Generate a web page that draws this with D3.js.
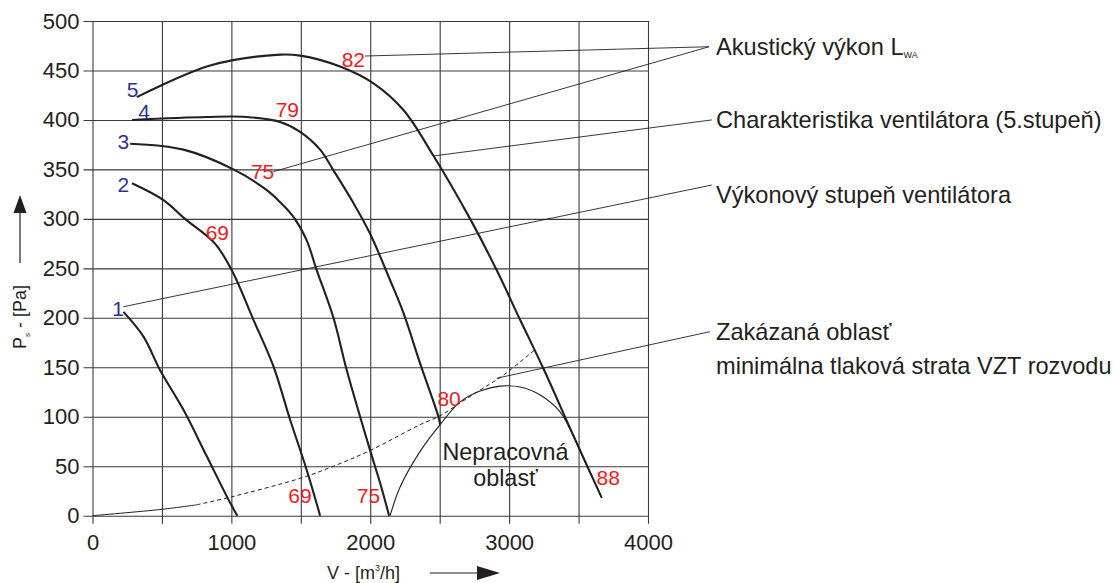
<!DOCTYPE html>
<html>
<head>
<meta charset="utf-8">
<script src="https://cdn.jsdelivr.net/npm/d3@7"></script>
<style>
  body { margin: 0; background: #fff; }
  svg { font-family: "Liberation Sans", Arial, Helvetica, sans-serif; }
</style>
</head>
<body>
<script>
// fan curves, one per speed step [V m3/h, Ps Pa]
const step1 = [[223,206],[367,181],[487,147],[655,107],[823,60],[991,13],[1043,0]];
const step2 = [[284,336],[511,319],[666,300],[882,275],[1003,248],[1159,198],[1303,151],[1423,97],[1543,46],[1639,0]];
const step3 = [[271,376],[655,370],[1015,350],[1255,329],[1350,317],[1447,302],[1540,279],[1615,248],[1735,200],[1831,147],[1999,66],[2071,33],[2136,0]];
const step4 = [[284,400],[823,403],[1111,403],[1351,398],[1495,388],[1639,370],[1735,349],[1879,316],[1999,285],[2143,238],[2239,205],[2359,154],[2491,100],[2503,92]];
const step5 = [[319,423],[847,455],[1351,466],[1495,465],[1783,454],[2023,437],[2239,410],[2454,364],[2719,300],[2911,248],[3079,198],[3246,149],[3450,85],[3667,18]];

// minimal pressure loss of the duct system (solid part, then dashed)
const minLossSolid = [[0,0],[503,6.5],[750,11]];
const minLossDashed = [[750,11],[1000,19],[1500,38],[1735,50],[2000,66],[2359,92],[2503,101],[2647,114],[2791,127],[2958,142],[3187,168]];

// border of the non-working area
const forbidden = [[2143,0],[2215,29],[2359,65],[2503,92],[2647,115],[2791,126],[2935,131],[3079,130],[3223,122],[3367,105],[3470,78],[3560,50],[3600,38]];

// step numbers and sound power values
const stepLabels = [["5",288,431],["4",372,409],["3",222,378],["2",222,335],["1",184,209]];
const soundLabels = [["82",1878,461],["79",1403,411],["75",1225,348],["69",899,286],["69",1494,20],["75",1987,20],["80",2568,119],["88",3714,39]];

const xTicks = d3.range(0, 4001, 500);
const yTicks = d3.range(0, 501, 50);

// callouts: text lines and the points their leaders come from
const callouts = [
  { lines: ["Akustický výkon L"], sub: "WA", from: [[1962,464.6],[1302,347.7]], to: [4440,474] },
  { lines: ["Charakteristika ventilátora (5.stupeň)"], from: [[2454,363.6]], to: [4459,400] },
  { lines: ["Výkonový stupeň ventilátora"], from: [[222,211.2]], to: [4459,334.2] },
  { lines: ["Zakázaná oblasť", "minimálna tlaková strata VZT rozvodu"], from: [[2910,138.9]], to: [4446,186] }
];
const areaText = ["Nepracovná", "oblasť"];

const width = 1113, height = 583;
const ink = "#231f20", red = "#ed1c24", blue = "#2e3192";

const x = d3.scaleLinear().domain([0, 4000]).range([92.5, 648]);
const y = d3.scaleLinear().domain([0, 500]).range([515.7, 21]);

const svg = d3.select("body").append("svg")
  .attr("width", width)
  .attr("height", height);

// axes with ticks stretched across the plot to make the grid
const xAxis = svg.append("g")
  .attr("transform", `translate(0,${y(0)})`)
  .call(d3.axisBottom(x).tickValues(xTicks).tickSize(8).tickPadding(11)
    .tickFormat(d => d % 1000 === 0 ? d : ""));
xAxis.select(".domain").remove();
xAxis.selectAll(".tick line")
  .attr("y1", y(500) - y(0))
  .attr("stroke", "#3a3a3a").attr("stroke-width", 1.1);

const yAxis = svg.append("g")
  .attr("transform", `translate(${x(0)},0)`)
  .call(d3.axisLeft(y).tickValues(yTicks).tickSize(9).tickPadding(4));
yAxis.select(".domain").remove();
yAxis.selectAll(".tick line")
  .attr("x1", x(4000) - x(0))
  .attr("stroke", "#3a3a3a").attr("stroke-width", 1.1);

svg.selectAll(".tick text")
  .attr("font-family", "Liberation Sans, Arial, sans-serif")
  .attr("font-size", 22)
  .attr("fill", ink);

const line = d3.line().x(d => x(d[0])).y(d => y(d[1])).curve(d3.curveCatmullRom.alpha(0.5));

// thin curves first
svg.append("path").datum(minLossSolid)
  .attr("d", line).attr("fill", "none").attr("stroke", ink).attr("stroke-width", 1);
svg.append("path").datum(minLossDashed)
  .attr("d", line).attr("fill", "none").attr("stroke", ink).attr("stroke-width", 1)
  .attr("stroke-dasharray", "4,3");
svg.append("path").datum(forbidden)
  .attr("d", line).attr("fill", "none").attr("stroke", ink).attr("stroke-width", 1.1);

// leader lines
callouts.forEach(c => {
  c.from.forEach(f => {
    svg.append("line")
      .attr("x1", x(f[0])).attr("y1", y(f[1]))
      .attr("x2", x(c.to[0])).attr("y2", y(c.to[1]))
      .attr("stroke", ink).attr("stroke-width", 0.9);
  });
});

// fan characteristic curves
[step1, step2, step3, step4, step5].forEach(s => {
  svg.append("path").datum(s)
    .attr("d", line).attr("fill", "none").attr("stroke", ink).attr("stroke-width", 2.1);
});

// step numbers and sound values
svg.selectAll(".step").data(stepLabels).join("text")
  .attr("x", d => x(d[1])).attr("y", d => y(d[2])).attr("dy", "0.36em")
  .attr("text-anchor", "middle").attr("font-size", 21).attr("fill", blue)
  .text(d => d[0]);
svg.selectAll(".sound").data(soundLabels).join("text")
  .attr("x", d => x(d[1])).attr("y", d => y(d[2])).attr("dy", "0.36em")
  .attr("text-anchor", "middle").attr("font-size", 21).attr("fill", red)
  .text(d => d[0]);

// non-working area text
svg.append("text")
  .attr("x", x(2974)).attr("y", y(56)).attr("text-anchor", "middle")
  .attr("font-size", 23.4).attr("fill", ink).text(areaText[0]);
svg.append("text")
  .attr("x", x(2974)).attr("y", y(30)).attr("text-anchor", "middle")
  .attr("font-size", 23.4).attr("fill", ink).text(areaText[1]);

// callout texts on the right
const calloutBase = [55, 128, 203, 340];
callouts.forEach((c, i) => {
  c.lines.forEach((t, j) => {
    const tx = svg.append("text")
      .attr("x", 716).attr("y", calloutBase[i] + j * 34)
      .attr("font-size", 23.6).attr("fill", ink)
      .text(t);
    if (c.sub && j === 0) {
      tx.append("tspan").attr("font-size", 9).attr("dy", 3).text(c.sub);
    }
  });
});

// axis titles with arrows
const yTitle = svg.append("text")
  .attr("transform", "translate(26,317) rotate(-90)")
  .attr("text-anchor", "middle").attr("font-size", 18).attr("fill", ink);
yTitle.append("tspan").text("P");
yTitle.append("tspan").attr("font-size", 8).attr("dy", 4).text("s");
yTitle.append("tspan").attr("dy", -4).text(" - [Pa]");

const xTitle = svg.append("text")
  .attr("x", 327).attr("y", 579)
  .attr("font-size", 18).attr("fill", ink);
xTitle.append("tspan").text("V - [m");
xTitle.append("tspan").attr("font-size", 9).attr("dy", -8).text("3");
xTitle.append("tspan").attr("dy", 8).text("/h]");

svg.append("line").attr("x1", 20).attr("y1", 263).attr("x2", 20).attr("y2", 208)
  .attr("stroke", ink).attr("stroke-width", 1.2);
svg.append("path").attr("d", "M20,195 L13.5,213 L26.5,213 Z").attr("fill", ink);

svg.append("line").attr("x1", 430).attr("y1", 573).attr("x2", 485).attr("y2", 573)
  .attr("stroke", ink).attr("stroke-width", 1.2);
svg.append("path").attr("d", "M500,573 L477,566 L477,580 Z").attr("fill", ink);
</script>
</body>
</html>
